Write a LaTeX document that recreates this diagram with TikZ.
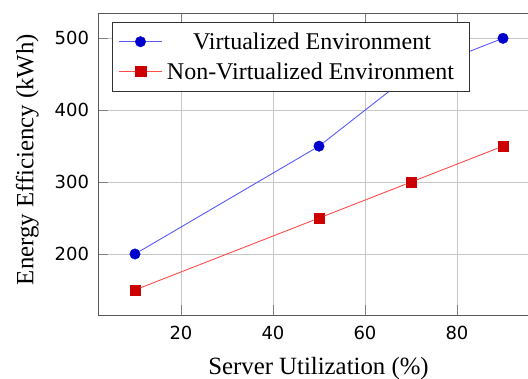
\documentclass[tikz,border=0pt]{standalone}
\usepackage{fontspec}
\setmainfont{Liberation Serif}
\newfontfamily\ticksfont{DejaVu Sans}
\begin{document}
\begin{tikzpicture}[x=1pt,y=-1pt,
  gridline/.style={draw=black!22,line width=0.9pt},
  tickmark/.style={draw=black!50,line width=0.9pt},
  axisframe/.style={draw=black!65,line width=1.1pt},
  ticklab/.style={font=\ticksfont\fontsize{18}{18}\selectfont,inner sep=0pt},
  axlab/.style={font=\fontsize{24.8}{24.8}\selectfont,inner sep=0pt},
  vline/.style={draw=blue!65,line width=0.9pt},
  nline/.style={draw=red!70,line width=0.9pt},
  vmark/.style={circle,fill=blue!80!black,draw=blue!80!black,inner sep=0pt,minimum size=10.5pt},
  nmark/.style={rectangle,fill=red!80!black,draw=red!80!black,inner sep=0pt,minimum size=10.5pt},
  legbox/.style={draw=black!80,fill=white,line width=0.9pt},
  legtext/.style={font=\fontsize{24}{24}\selectfont,inner sep=0pt,anchor=base}
]
\clip (0,0) rectangle (528,378);
% plot area (data coordinates)
\begin{scope}[shift={(89,397.8)},x=4.6pt,y=0.719pt]
  % grid
  \foreach \gx in {20,40,60,80} \draw[gridline] (\gx,115) -- (\gx,535);
  \foreach \gy in {200,300,400,500} \draw[gridline] (2,\gy) -- (98,\gy);
  % tick marks
  \foreach \gx in {20,40,60,80} {\draw[tickmark] (\gx,115) -- ++(0,10pt); \draw[tickmark] (\gx,535) -- ++(0,-10pt);}
  \foreach \gy in {200,300,400,500} \draw[tickmark] (2,\gy) -- ++(10pt,0);
  % frame
  \draw[axisframe] (98,115) -- (2,115) -- (2,535) -- (98,535) -- cycle;
  % tick labels
  \foreach \gx in {20,40,60,80} \node[ticklab] (xt\gx) at (\gx,115) [yshift=-18.2pt] {\gx};
  \foreach \gy in {200,300,400,500} \node[ticklab,anchor=east] (yt\gy) at (2,\gy) [xshift=-8.9pt] {\gy};
  % data markers
  \node[vmark] (v1) at (10,200) {};
  \node[vmark] (v2) at (50,350) {};
  \node[vmark] (v3) at (70,450) {};
  \node[vmark] (v4) at (90,500) {};
  \node[nmark] (n1) at (10,150) {};
  \node[nmark] (n2) at (50,250) {};
  \node[nmark] (n3) at (70,300) {};
  \node[nmark] (n4) at (90,350) {};
  % lines
  \draw[vline] (v1) -- (v2) -- (v3) -- (v4);
  \draw[nline] (n1) -- (n2) -- (n3) -- (n4);
\end{scope}
% axis labels
\node[axlab,anchor=base] (xlab) at (318.5,374) {Server Utilization (\%)};
\node[axlab,anchor=base,rotate=90] (ylab) at (33.5,159.5) {Energy Efficiency (kWh)};
% legend
\node[legbox,minimum width=357.6pt,minimum height=68.7pt,anchor=north west,inner sep=0pt] (leg) at (111.7,22.3) {};
\coordinate (la1) at (119,41.7);
\coordinate (lb1) at (162,41.7);
\coordinate (la2) at (119,71);
\coordinate (lb2) at (162,71);
\draw[vline] (la1) -- (lb1);
\draw[nline] (la2) -- (lb2);
\node[vmark] (lm1) at (140.5,41.7) {};
\node[nmark] (lm2) at (140.5,71) {};
\node[legtext] (lt1) at (312,49.5) {Virtualized Environment};
\node[legtext] (lt2) at (310.5,79) {Non-Virtualized Environment};
\end{tikzpicture}
\end{document}
